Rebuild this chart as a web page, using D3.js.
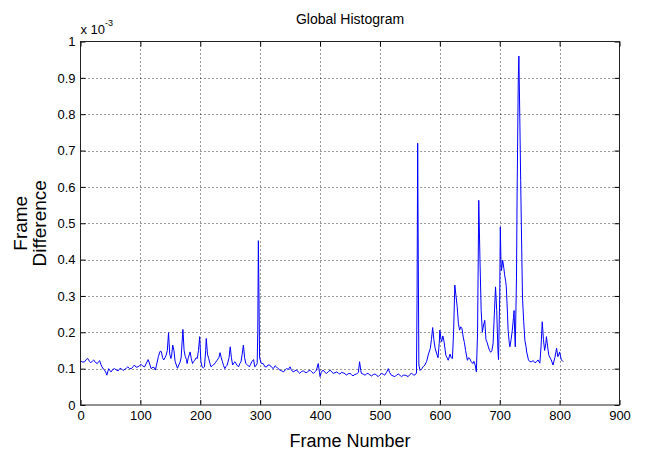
<!DOCTYPE html>
<html><head><meta charset="utf-8">
<script src="https://cdn.jsdelivr.net/npm/d3@7/dist/d3.min.js"></script>
<style>
body{margin:0;background:#fff}
svg{display:block}
text{font-family:"Liberation Sans",Arial,sans-serif;fill:#000}
</style>
</head><body>
<svg id="chart" width="646" height="453"></svg>
<script>
// Frame numbers and frame-difference values (in units of 10^-3)
const frames = [0,3,7,10,12,15,17,20,22,25,28,30,32,34,36,38,40,42,44,46,47,49,51,54,57,60,63,66,68,71,74,77,79,82,85,88,90,93,96,99,
101,104,107,110,113,116,118,121,123,125,128,130,133,135,137,139,141,143,145,147,149,151,152,154,156,158,160,162,164,166,168,171,173,175,177,178,180,183,185,187,189,191,193,195,197,199,
201,203,205,207,209,210,212,214,216,218,220,222,225,228,231,233,235,237,239,241,243,245,248,250,252,254,256,258,261,264,266,268,270,272,274,276,279,282,284,286,289,291,293,295,296,297,298,299,
302,305,308,311,313,316,319,322,325,327,330,333,336,339,342,344,347,350,352,355,358,361,364,366,369,372,375,378,380,383,386,389,392,394,397,399,
400,402,405,408,411,414,417,420,422,425,428,431,433,436,439,442,444,447,450,453,455,458,461,464,466,468,469,472,475,478,480,483,486,489,492,495,497,
500,503,506,508,511,514,516,519,522,525,528,531,534,536,539,542,545,547,550,553,556,558,561,562,563,564,565,567,570,572,575,578,581,584,586,588,590,592,595,597,599,
600,602,603,605,607,610,612,614,617,619,621,623,625,627,629,631,633,635,637,639,641,643,646,648,650,652,655,657,659,661,663,665,667,669,671,673,675,677,679,681,683,685,687,689,691,693,695,697,698,
700,701,702,703,705,707,708,710,711,713,714,716,717,719,721,723,724,725,726,728,729,731,732,733,735,737,738,740,742,744,745,748,750,753,756,759,762,764,767,769,771,773,775,777,778,780,782,784,786,789,792,795,797,799,
800,802,803,806];
const values = [0.122,0.118,0.119,0.126,0.128,0.120,0.116,0.121,0.124,0.117,0.114,0.119,0.122,0.112,0.105,0.099,0.096,0.091,0.082,0.094,0.100,0.095,0.091,0.098,0.100,0.096,0.094,0.101,0.100,0.095,0.098,0.102,0.105,0.100,0.100,0.106,0.110,0.104,0.105,0.109,
0.112,0.107,0.105,0.115,0.125,0.110,0.100,0.104,0.103,0.096,0.118,0.133,0.148,0.147,0.130,0.124,0.130,0.137,0.150,0.199,0.140,0.128,0.133,0.165,0.150,0.120,0.110,0.101,0.110,0.116,0.130,0.208,0.150,0.133,0.125,0.114,0.130,0.146,0.128,0.114,0.120,0.123,0.130,0.128,0.150,0.188,
0.120,0.105,0.102,0.105,0.150,0.183,0.140,0.128,0.115,0.105,0.108,0.110,0.116,0.123,0.130,0.144,0.130,0.119,0.108,0.100,0.106,0.110,0.130,0.160,0.130,0.110,0.116,0.119,0.110,0.105,0.114,0.119,0.140,0.165,0.130,0.114,0.110,0.105,0.112,0.119,0.125,0.105,0.108,0.114,0.200,0.452,0.300,0.130,
0.114,0.114,0.105,0.105,0.110,0.110,0.104,0.100,0.108,0.105,0.100,0.096,0.094,0.091,0.097,0.100,0.098,0.105,0.097,0.091,0.094,0.096,0.090,0.087,0.092,0.094,0.090,0.089,0.093,0.096,0.091,0.087,0.092,0.096,0.114,0.090,
0.078,0.090,0.096,0.090,0.087,0.092,0.096,0.090,0.087,0.089,0.091,0.087,0.085,0.090,0.088,0.086,0.082,0.086,0.087,0.083,0.080,0.084,0.085,0.090,0.119,0.095,0.087,0.085,0.082,0.086,0.087,0.083,0.080,0.084,0.085,0.081,0.078,
0.083,0.087,0.084,0.082,0.090,0.100,0.090,0.082,0.080,0.078,0.083,0.085,0.081,0.078,0.082,0.082,0.080,0.078,0.084,0.087,0.083,0.082,0.088,0.300,0.720,0.400,0.110,0.095,0.100,0.105,0.110,0.120,0.140,0.155,0.180,0.213,0.180,0.157,0.140,0.130,0.170,
0.206,0.180,0.174,0.190,0.175,0.137,0.130,0.123,0.140,0.130,0.128,0.200,0.330,0.300,0.270,0.224,0.206,0.215,0.210,0.187,0.172,0.150,0.123,0.130,0.128,0.120,0.114,0.120,0.110,0.091,0.200,0.563,0.400,0.260,0.200,0.220,0.233,0.180,0.172,0.160,0.150,0.145,0.150,0.170,0.250,0.325,0.260,0.150,0.125,
0.300,0.490,0.400,0.370,0.398,0.375,0.360,0.340,0.325,0.250,0.206,0.170,0.160,0.180,0.206,0.240,0.260,0.200,0.160,0.350,0.572,0.900,0.960,0.850,0.618,0.400,0.297,0.230,0.178,0.160,0.146,0.124,0.120,0.119,0.122,0.116,0.120,0.124,0.115,0.160,0.229,0.180,0.150,0.170,0.188,0.160,0.137,0.130,0.124,0.110,0.130,0.156,0.133,0.140,
0.146,0.130,0.124,0.119];
const xTicks = [0,100,200,300,400,500,600,700,800,900];
const yTicks = [0,0.1,0.2,0.3,0.4,0.5,0.6,0.7,0.8,0.9,1];
const yTickLabels = ["0","0.1","0.2","0.3","0.4","0.5","0.6","0.7","0.8","0.9","1"];
const titleText = "Global Histogram";
const xLabel = "Frame Number";
const yLabelLines = ["Frame","Difference"];

const svg = d3.select("#chart");
const L = 80.5, R = 619.5, T = 41.5, B = 405;
const x = d3.scaleLinear().domain([0,900]).range([L,R]);
const y = d3.scaleLinear().domain([0,1]).range([B,T]);

// grid
const grid = svg.append("g").attr("stroke","#000").attr("stroke-width",0.8).attr("stroke-dasharray","1,3");
grid.selectAll(".gx").data(xTicks.slice(1,-1)).join("line")
  .attr("x1",d=>Math.round(x(d))+0.5).attr("x2",d=>Math.round(x(d))+0.5).attr("y1",T).attr("y2",B);
grid.selectAll(".gy").data(yTicks.slice(1,-1)).join("line")
  .attr("y1",d=>Math.round(y(d))+0.5).attr("y2",d=>Math.round(y(d))+0.5).attr("x1",L).attr("x2",R);

// data line
const pts = frames.map((f,i)=>[f,values[i]]);
svg.append("path").datum(pts)
  .attr("fill","none").attr("stroke","#0000ff").attr("stroke-width",1)
  .attr("d", d3.line().x(d=>x(d[0])).y(d=>y(d[1])));

// axes
const fmtY = d => yTickLabels[yTicks.indexOf(d)];
const ax = svg.append("g").attr("transform",`translate(0,${B})`)
  .call(d3.axisBottom(x).tickValues(xTicks).tickSizeInner(-5).tickSizeOuter(0).tickPadding(6));
const ay = svg.append("g").attr("transform",`translate(${L},0)`)
  .call(d3.axisLeft(y).tickValues(yTicks).tickFormat(fmtY).tickSizeInner(-5).tickSizeOuter(0).tickPadding(5));
const at = svg.append("g").attr("transform",`translate(0,${T})`)
  .call(d3.axisTop(x).tickValues(xTicks).tickFormat("").tickSizeInner(-5).tickSizeOuter(0));
const ar = svg.append("g").attr("transform",`translate(${R},0)`)
  .call(d3.axisRight(y).tickValues(yTicks).tickFormat("").tickSizeInner(-5).tickSizeOuter(0));
[ax,ay,at,ar].forEach(g=>{
  g.select(".domain").remove();
  g.selectAll("line").attr("stroke","#000");
  g.selectAll("text").attr("font-size",13).attr("fill","#000").style("font-family","'Liberation Sans',Arial,sans-serif");
});
svg.append("rect").attr("x",L).attr("y",T).attr("width",R-L).attr("height",B-T)
  .attr("fill","none").attr("stroke","#222").attr("stroke-width",1);

// exponent label
const ex = svg.append("text").attr("x",L).attr("y",34).attr("font-size",13);
ex.append("tspan").text("x 10");
ex.append("tspan").attr("dy",-8).attr("font-size",9).text("-3");

// title
svg.append("text").attr("x",(L+R)/2).attr("y",24).attr("text-anchor","middle").attr("font-size",14).text(titleText);
// x label
svg.append("text").attr("x",(L+R)/2).attr("y",447).attr("text-anchor","middle").attr("font-size",18).text(xLabel);
// y label
const yl = svg.append("text").attr("transform",`translate(27,${(T+B)/2}) rotate(-90)`).attr("text-anchor","middle").attr("font-size",19);
yLabelLines.forEach((s,i)=> yl.append("tspan").attr("x",0).attr("dy", i===0 ? 0 : "1.0em").text(s));
</script>
</body></html>
